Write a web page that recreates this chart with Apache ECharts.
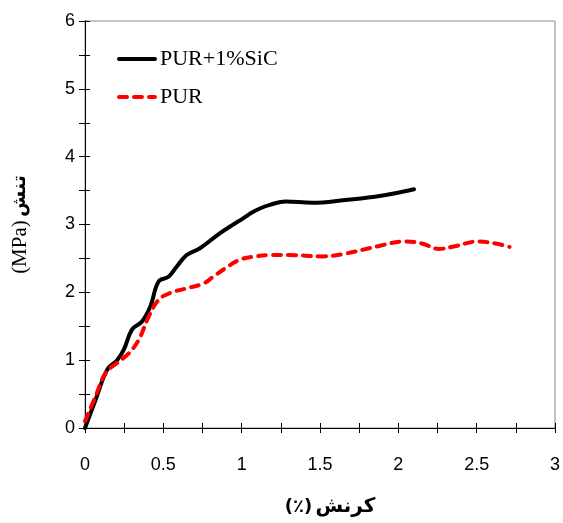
<!DOCTYPE html>
<html><head><meta charset="utf-8">
<script src="https://cdn.jsdelivr.net/npm/echarts@6/dist/echarts.min.js"></script>
<style>html,body{margin:0;padding:0;background:#fff}#c{width:563px;height:523px}</style>
</head><body><div id="c"></div>
<script>
const seriesNames = ['PUR+1%SiC', 'PUR'];
const sicX = [0, 0.07, 0.142, 0.205, 0.247, 0.30, 0.364, 0.417, 0.47, 0.533, 0.586, 0.649, 0.734, 0.86, 0.94, 1.009, 1.06, 1.12, 1.18, 1.28, 1.45, 1.66, 1.85, 1.98, 2.10];
const sicY = [0, 0.43, 0.86, 1.0, 1.15, 1.45, 1.57, 1.79, 2.16, 2.23, 2.38, 2.55, 2.65, 2.87, 2.99, 3.09, 3.17, 3.24, 3.29, 3.34, 3.32, 3.36, 3.41, 3.46, 3.52];
const purX = [0, 0.068, 0.131, 0.205, 0.279, 0.343, 0.406, 0.47, 0.544, 0.649, 0.755, 0.819, 0.893, 0.988, 1.093, 1.178, 1.30, 1.51, 1.66, 1.87, 2.04, 2.15, 2.26, 2.36, 2.51, 2.62, 2.71];
const purY = [0.1, 0.47, 0.81, 0.96, 1.10, 1.30, 1.64, 1.89, 1.99, 2.06, 2.13, 2.23, 2.35, 2.48, 2.53, 2.55, 2.55, 2.53, 2.57, 2.68, 2.75, 2.72, 2.64, 2.68, 2.75, 2.72, 2.67];
const xTitleUnit = '(٪)';
const xTitleWord = 'کرنش';
const yTitleUnit = '(MPa)';
const yTitleWord = 'تنش';

const zip = (xs, ys) => xs.map((x, i) => [x, ys[i]]);
const tickFont = {fontFamily: 'Liberation Sans', fontSize: 18, color: '#000'};
const xFmt = v => (Math.abs(v * 2 - Math.round(v * 2)) < 1e-9) ? String(+v.toFixed(2)) : '';
const yFmt = v => (Math.abs(v - Math.round(v)) < 1e-9) ? String(Math.round(v)) : '';

const baseX = {type: 'value', min: 0, max: 3, interval: 0.25, position: 'bottom',
  axisLine: {show: true, onZero: false, lineStyle: {color: '#000', width: 1}},
  splitLine: {show: false}};
const baseY = {type: 'value', min: 0, max: 6, interval: 0.5, position: 'left',
  axisLine: {show: true, onZero: false, lineStyle: {color: '#000', width: 1}},
  splitLine: {show: false}};

const chart = echarts.init(document.getElementById('c'), null, {renderer: 'canvas'});
chart.setOption({
  animation: false,
  backgroundColor: '#fff',
  grid: {left: 85, right: 6, top: 21, bottom: 95, show: true, borderColor: '#8a8a8a', borderWidth: 1, backgroundColor: 'transparent'},
  legend: {
    orient: 'vertical', left: 112, top: 43, itemWidth: 36, itemHeight: 18, itemGap: 16,
    itemStyle: {opacity: 0},
    lineStyle: {width: 4},
    textStyle: {fontFamily: 'Liberation Serif', fontSize: 22, lineHeight: 18, color: '#000'},
    data: seriesNames
  },
  xAxis: [
    Object.assign({}, baseX, {
      axisTick: {show: true, inside: false, length: 5, lineStyle: {color: '#000'}},
      axisLabel: Object.assign({margin: 28, formatter: xFmt}, tickFont),
      name: '{u|' + xTitleUnit + '} {w|' + xTitleWord + '}',
      nameLocation: 'middle', nameGap: 69,
      nameTextStyle: {padding: [0, 0, 0, 20], rich: {
        u: {fontFamily: 'DejaVu Sans', fontWeight: 'bold', fontSize: 18, color: '#000'},
        w: {fontFamily: 'DejaVu Sans', fontWeight: 'bold', fontSize: 20, color: '#000'}
      }}
    }),
    Object.assign({}, baseX, {
      axisTick: {show: true, inside: true, length: 5, lineStyle: {color: '#000'}},
      axisLabel: {show: false}
    })
  ],
  yAxis: [
    Object.assign({}, baseY, {
      axisTick: {show: true, inside: false, length: 6, lineStyle: {color: '#000'}},
      axisLabel: Object.assign({margin: 10, formatter: yFmt}, tickFont),
      name: '{u|' + yTitleUnit + '} {w|' + yTitleWord + '}',
      nameLocation: 'middle', nameGap: 54, nameRotate: 90,
      nameTextStyle: {rich: {
        u: {fontFamily: 'Liberation Serif', fontSize: 21, color: '#000'},
        w: {fontFamily: 'DejaVu Sans', fontWeight: 'bold', fontSize: 19, color: '#000'}
      }}
    }),
    Object.assign({}, baseY, {
      axisTick: {show: true, inside: true, length: 5, lineStyle: {color: '#000'}},
      axisLabel: {show: false}
    })
  ],
  series: [
    {name: seriesNames[0], type: 'line', data: zip(sicX, sicY), smooth: 0.4, symbol: 'none',
      itemStyle: {color: '#000'},
      lineStyle: {color: '#000', width: 4, cap: 'round', join: 'round'}},
    {name: seriesNames[1], type: 'line', data: zip(purX, purY), smooth: 0.4, symbol: 'none',
      itemStyle: {color: '#ff0000'},
      lineStyle: {color: '#ff0000', width: 4, type: [8, 7], cap: 'round', join: 'round'}}
  ]
});
</script></body></html>
